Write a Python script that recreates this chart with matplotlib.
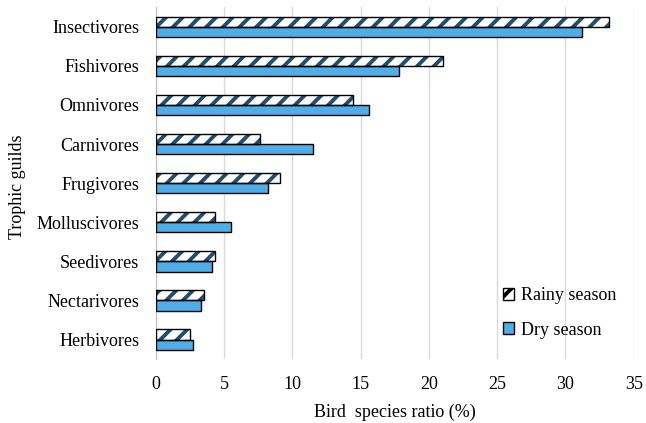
import matplotlib
matplotlib.use('Agg')
import matplotlib.pyplot as plt
import numpy as np
from matplotlib.patches import Patch

plt.rcParams.update({
    'font.family': ['Liberation Serif', 'DejaVu Serif'],
    'font.size': 13,
    'hatch.linewidth': 2.8,
})

guilds = ['Insectivores', 'Fishivores', 'Omnivores', 'Carnivores', 'Frugivores',
          'Molluscivores', 'Seedivores', 'Nectarivores', 'Herbivores']
rainy = [33.2, 21.0, 14.4, 7.6, 9.1, 4.3, 4.3, 3.5, 2.5]
dry = [31.2, 17.8, 15.6, 11.5, 8.2, 5.5, 4.1, 3.3, 2.7]

stripe_color = '#1F4E6E'
dry_color = '#4FAEE8'

fig = plt.figure(figsize=(6.46, 4.23), dpi=100)
ax = fig.add_axes([0.2415, 0.151, 0.7395, 0.832])

y = np.arange(len(guilds))[::-1]
h = 0.26

# rainy season: white bars with diagonal stripes, then a black outline on top
ax.barh(y + h / 2, rainy, height=h, color='white', edgecolor=stripe_color,
        hatch='//', linewidth=0, zorder=3)
ax.barh(y + h / 2, rainy, height=h, fill=False, edgecolor='black',
        linewidth=1.0, zorder=4)
ax.barh(y - h / 2, dry, height=h, color=dry_color, edgecolor='black',
        linewidth=1.0, zorder=3)

ax.set_xlim(0, 35)
ax.set_ylim(-0.5, len(guilds) - 0.5)
ax.set_xticks(np.arange(0, 36, 5))
ax.set_yticks(y)
ax.set_yticklabels(guilds)
ax.tick_params(axis='y', length=0, pad=12)
ax.tick_params(axis='x', length=0, pad=12)
ax.grid(axis='x', color='#D9D9D9', linewidth=1.0, zorder=0)
for s in ['top', 'right', 'bottom']:
    ax.spines[s].set_visible(False)
ax.spines['left'].set_color('#BFBFBF')

ax.set_xlabel('Bird  species ratio (%)', labelpad=8)
ax.set_ylabel('Trophic guilds')
ax.yaxis.set_label_coords(-0.272, 0.49)

handles = [Patch(facecolor='white', edgecolor='black', hatch='//', label='Rainy season'),
           Patch(facecolor=dry_color, edgecolor='black', label='Dry season')]
leg = fig.legend(handles=handles, loc='center left', bbox_to_anchor=(0.753, 0.26),
                 frameon=False, handlelength=0.65, handleheight=0.65,
                 handletextpad=0.35, labelspacing=0.95)

fig.savefig('out.png', dpi=100)
